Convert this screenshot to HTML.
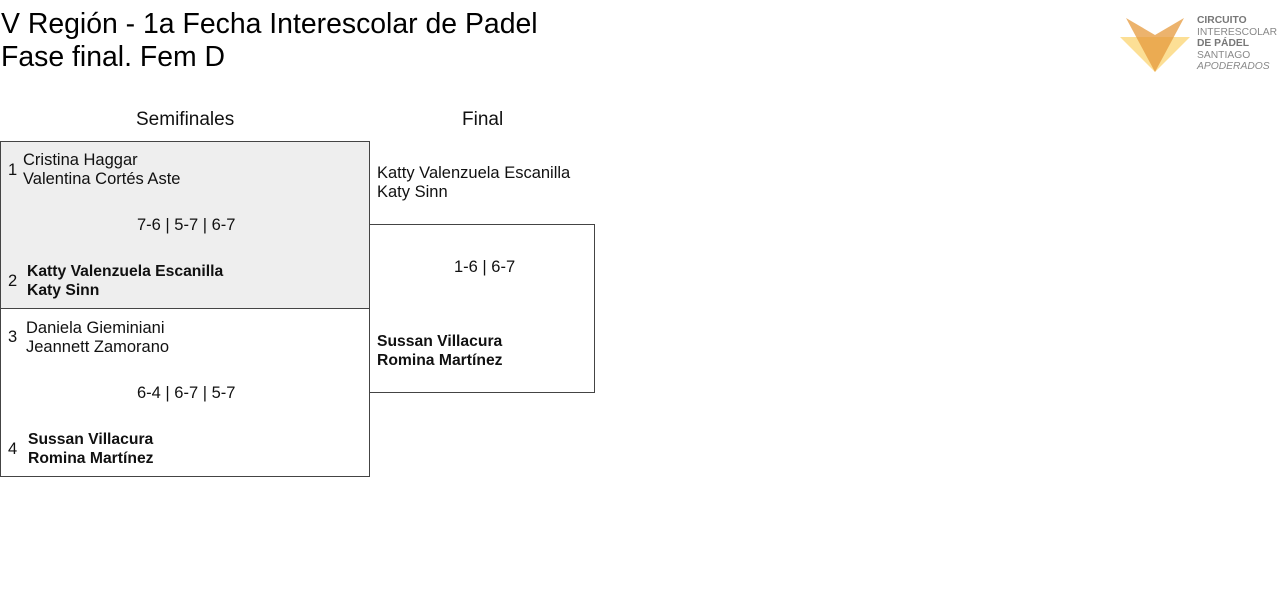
<!DOCTYPE html>
<html><head><meta charset="utf-8"><style>
body{margin:0;width:1280px;height:595px;background:#fff;font-family:"Liberation Sans",sans-serif;color:#111;position:relative;overflow:hidden}
.a{position:absolute;white-space:nowrap}
.t{font-size:28.4px;line-height:32px;color:#000}
.n{font-size:16.5px;line-height:19px}
.b{font-weight:bold;font-size:15.7px}
.box{position:absolute;border:1px solid #444;box-sizing:border-box}
</style></head><body>
<div class="a t" style="left:1px;top:8px">V Región - 1a Fecha Interescolar de Padel</div>
<div class="a t" style="left:1px;top:41px">Fase final. Fem D</div>

<svg class="a" style="left:1118px;top:15px" width="75" height="60">
<polygon points="2,22 72,22 37,57" fill="#fbd77a" opacity="0.8"/>
<polygon points="8,3 37,20 66,3 37,57" fill="#e59a3c" opacity="0.75"/>
</svg>
<div class="a" style="left:1197px;top:15px;font-size:10.3px;line-height:11.5px;color:#888">
<b style="color:#777">CIRCUITO</b><br>INTERESCOLAR<br><b style="color:#777">DE PÁDEL</b><br>SANTIAGO<br><i>APODERADOS</i></div>

<div class="a" style="left:136px;top:109px;font-size:19px">Semifinales</div>
<div class="a" style="left:462px;top:109px;font-size:19px">Final</div>

<div class="box" style="left:0;top:141px;width:370px;height:168px;background:#eee"></div>
<div class="box" style="left:0;top:308px;width:370px;height:169px"></div>
<div class="box" style="left:369px;top:224px;width:226px;height:169px"></div>

<div class="a n" style="left:8px;top:161px">1</div>
<div class="a n" style="left:23px;top:151px">Cristina Haggar<br>Valentina Cortés Aste</div>
<div class="a n" style="left:137px;top:216px">7-6 | 5-7 | 6-7</div>
<div class="a n" style="left:8px;top:272px">2</div>
<div class="a n b" style="left:27px;top:262px">Katty Valenzuela Escanilla<br>Katy Sinn</div>

<div class="a n" style="left:8px;top:328px">3</div>
<div class="a n" style="left:26px;top:319px">Daniela Gieminiani<br>Jeannett Zamorano</div>
<div class="a n" style="left:137px;top:384px">6-4 | 6-7 | 5-7</div>
<div class="a n" style="left:8px;top:440px">4</div>
<div class="a n b" style="left:28px;top:430px">Sussan Villacura<br>Romina Martínez</div>

<div class="a n" style="left:377px;top:164px">Katty Valenzuela Escanilla<br>Katy Sinn</div>
<div class="a n" style="left:454px;top:258px">1-6 | 6-7</div>
<div class="a n b" style="left:377px;top:332px">Sussan Villacura<br>Romina Martínez</div>
</body></html>
